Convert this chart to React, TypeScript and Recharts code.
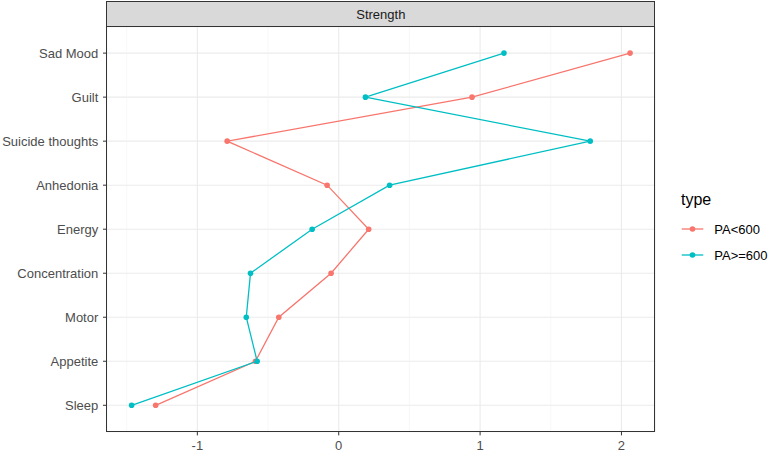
import React from "react";
import {
  ScatterChart, Scatter, XAxis, YAxis, CartesianGrid, ReferenceLine,
} from "recharts";

// ─── Data ─────────────────────────────────────────────────────────────────────

const categories = [
  "Sad Mood", "Guilt", "Suicide thoughts", "Anhedonia", "Energy",
  "Concentration", "Motor", "Appetite", "Sleep",
];
const paLow = [2.061, 0.943, -0.789, -0.082, 0.212, -0.054, -0.424, -0.589, -1.295];
const paHigh = [1.169, 0.189, 1.779, 0.36, -0.188, -0.624, -0.654, -0.577, -1.465];
const xTicks = [-1, 0, 1, 2];
const xMinorTicks = [-1.5, -0.5, 0.5, 1.5];
const seriesNames = ["PA<600", "PA>=600"];

// ─── Style ────────────────────────────────────────────────────────────────────

const RED = "#F8766D";
const TEAL = "#00BFC4";
const FONT = "'Liberation Sans', Arial, sans-serif";
const W = 770;
const H = 452;
const PL = 106.7; // panel left
const PR = 655; // panel right
const PT = 26.7; // panel top
const PB = 431.7; // panel bottom

// category index -> position (top category highest)
const n = categories.length;
const toPoints = (vals: number[]) =>
  vals.map((v, i) => ({ x: v, y: n - i, name: categories[i] }));

const lowData = toPoints(paLow);
const highData = toPoints(paHigh);

const all = [...paLow, ...paHigh];
const lo = Math.min(...all);
const hi = Math.max(...all);
const pad = (hi - lo) * 0.05;
const xDomain = [lo - pad, hi + pad];
const yTicks = categories.map((_, i) => n - i);

const dot = (color: string) => (p: any) => (
  <circle cx={p.cx} cy={p.cy} r={2.8} fill={color} />
);

// y tick label without wrapping
const YTick = (p: any) => (
  <text
    x={p.x}
    y={p.y}
    dy="0.355em"
    textAnchor="end"
    fontSize={13}
    fontFamily={FONT}
    fill="#4D4D4D"
  >
    {categories[n - p.payload.value]}
  </text>
);

export default function App() {
  return (
    <div style={{ position: "absolute", left: 0, top: 0, width: W, height: H, background: "#fff", fontFamily: FONT }}>
      <ScatterChart
        width={W}
        height={H}
        margin={{ top: PT, right: W - PR, bottom: 0, left: 0 }}
      >
        <CartesianGrid stroke="#EBEBEB" strokeWidth={1.1} />
        {xMinorTicks.map((t) => (
          <ReferenceLine key={t} x={t} stroke="#F2F2F2" strokeWidth={0.6} />
        ))}
        <XAxis
          type="number"
          dataKey="x"
          domain={xDomain}
          ticks={xTicks}
          allowDataOverflow
          height={H - PB}
          axisLine={false}
          tickSize={3.7}
          tickMargin={5}
          tickLine={{ stroke: "#333333" }}
          tick={{ fill: "#4D4D4D", fontSize: 13, fontFamily: FONT }}
        />
        <YAxis
          type="number"
          dataKey="y"
          domain={[0.4, n + 0.6]}
          ticks={yTicks}
          allowDataOverflow
          width={PL}
          axisLine={false}
          tickSize={3.7}
          tickMargin={4.7}
          tickLine={{ stroke: "#333333" }}
          tick={YTick}
        />
        <Scatter
          data={lowData}
          line={{ stroke: RED, strokeWidth: 1.3 }}
          lineType="joint"
          shape={dot(RED)}
          isAnimationActive={false}
        />
        <Scatter
          data={highData}
          line={{ stroke: TEAL, strokeWidth: 1.3 }}
          lineType="joint"
          shape={dot(TEAL)}
          isAnimationActive={false}
        />
      </ScatterChart>

      {/* panel border */}
      <div
        style={{
          position: "absolute", left: PL - 0.5, top: PT - 0.5,
          width: PR - PL + 1, height: PB - PT + 1, boxSizing: "border-box",
          border: "1px solid #333333", pointerEvents: "none",
        }}
      />
      {/* facet strip */}
      <div
        style={{
          position: "absolute", left: PL - 0.5, top: 1.2,
          width: PR - PL + 1, height: PT - 0.7, boxSizing: "border-box",
          border: "1px solid #333333", background: "#D9D9D9",
          display: "flex", alignItems: "center", justifyContent: "center",
          fontSize: 13, color: "#1A1A1A",
        }}
      >
        Strength
      </div>

      {/* legend */}
      <svg width={W} height={H} style={{ position: "absolute", left: 0, top: 0, pointerEvents: "none" }}>
        <text x={681} y={205} fontSize={16} fill="#000" fontFamily={FONT}>type</text>
        {seriesNames.map((s, i) => {
          const c = i === 0 ? RED : TEAL;
          const cy = 229 + i * 26;
          return (
            <g key={s}>
              <line x1={681.7} x2={703.3} y1={cy} y2={cy} stroke={c} strokeWidth={1.3} />
              <circle cx={692.5} cy={cy} r={2.8} fill={c} />
              <text x={714.3} y={cy + 4.7} fontSize={13} fill="#000" fontFamily={FONT}>{s}</text>
            </g>
          );
        })}
      </svg>
    </div>
  );
}
